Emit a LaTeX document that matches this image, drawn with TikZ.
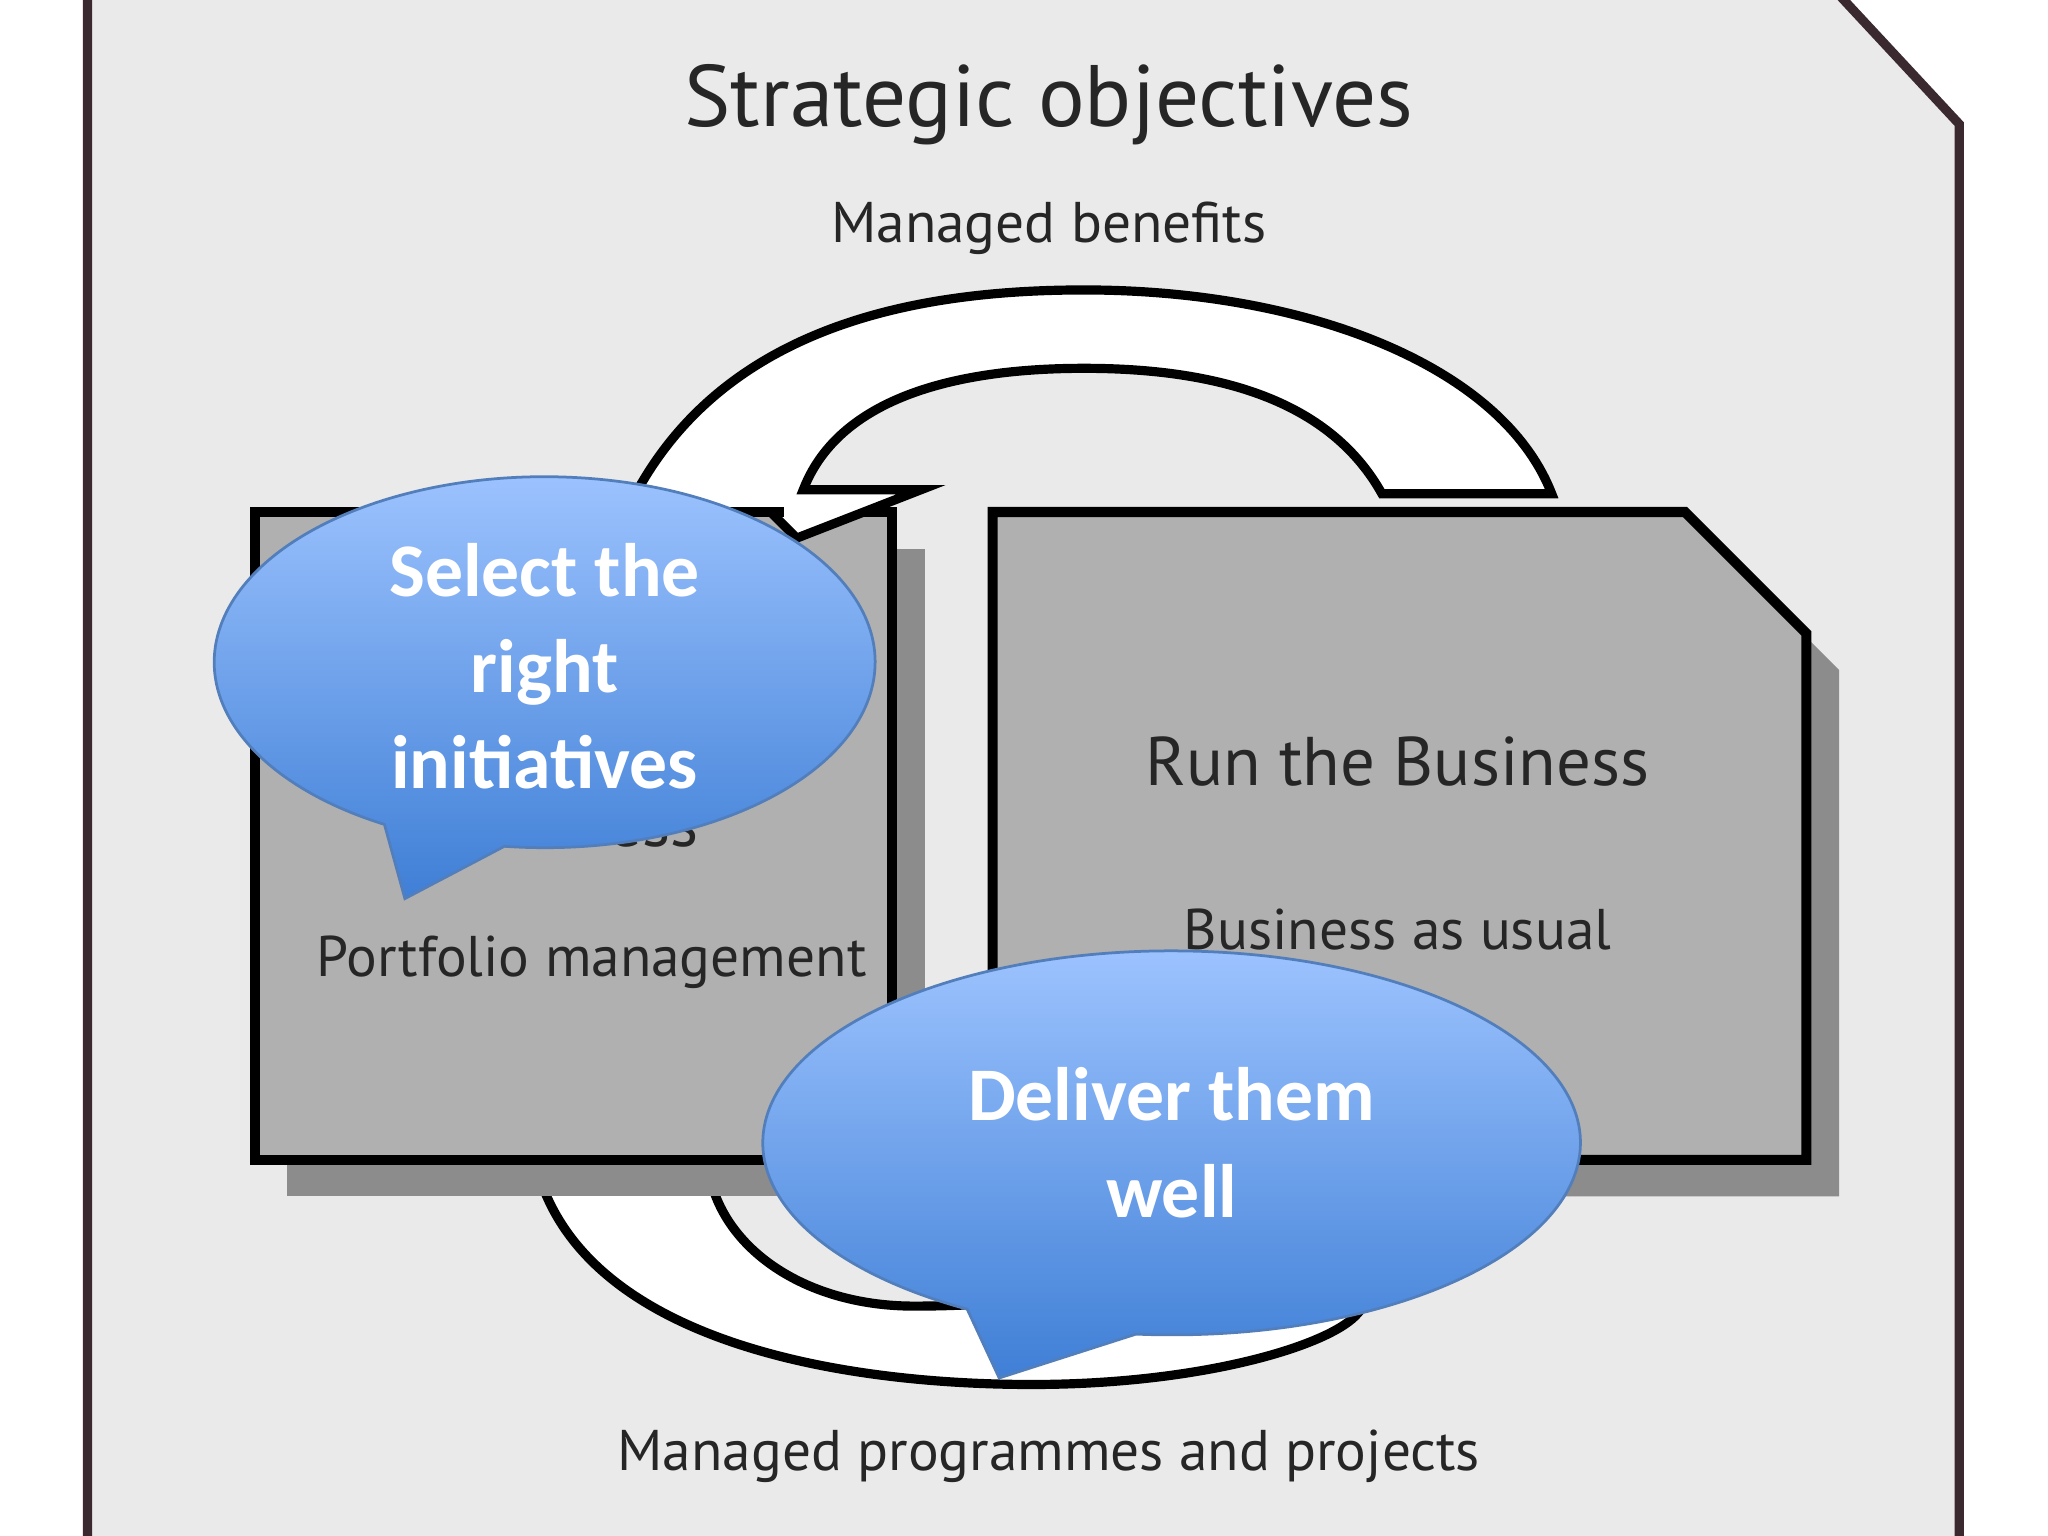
\documentclass[tikz,border=0pt]{standalone}
\usepackage{fontspec}
\setmainfont{PT Sans}
\newfontfamily\callfont{Carlito}
\definecolor{bgg}{HTML}{EAEAEA}
\definecolor{boxg}{HTML}{B0B0B0}
\definecolor{shadg}{HTML}{8C8C8C}
\definecolor{frame}{HTML}{3A2A30}
\definecolor{btop}{HTML}{9EC4FF}
\definecolor{bbot}{HTML}{3F7FD6}
\tikzset{
 lbl/.style={text=black!85, inner sep=0pt},
 bx/.style={fill=boxg, draw=black, line width=2.2pt},
 shd/.style={fill=shadg},
 band/.style={fill=white, draw=black, line width=2pt, line join=miter},
 callout/.style={top color=btop, bottom color=bbot, draw=bbot!70!gray, line width=0.6pt},
 ctext/.style={text=white, font=\callfont\bfseries\fontsize{16.5}{21}\selectfont, align=center}
}
\begin{document}
\begin{tikzpicture}
\useasboundingbox (0,0) rectangle (15.68,-11.76);
\fill[white] (0,0) rectangle (15.68,-11.76);
% frame
\draw[fill=bgg, draw=frame, line width=2pt] (0.67,0.05) -- (14.07,0.05) -- (15.00,-0.95) -- (15.00,-11.80) -- (0.67,-11.80) -- cycle;
\node[lbl, font=\fontsize{19}{23}\selectfont] (title) at (8.03,-0.80) {Strategic objectives};
\node[lbl, font=\fontsize{12.5}{15}\selectfont] (mb) at (8.03,-1.75) {Managed benefits};
\node[lbl, font=\fontsize{12.5}{15}\selectfont] (mpp) at (8.03,-11.15) {Managed programmes and projects};
% bottom band
\draw[band] (4.15,-9.07) .. controls (4.60,-10.30) and (6.50,-10.60) .. (7.90,-10.60)
  .. controls (9.20,-10.60) and (10.20,-10.30) .. (10.40,-10.05) -- (9.00,-9.70)
  .. controls (8.50,-9.95) and (7.50,-10.00) .. (7.00,-10.00)
  .. controls (6.20,-10.00) and (5.60,-9.60) .. (5.45,-9.07) -- cycle;
% left box
\fill[shd] (2.20,-4.20) rectangle (7.08,-9.16);
\draw[bx] (1.95,-3.92) rectangle (6.83,-8.88);
\node[lbl, font=\fontsize{14.5}{20}\selectfont, align=center] (ctb) at (4.40,-5.95) {Change the\\Business};
\node[lbl, font=\fontsize{12.5}{15}\selectfont] (pm) at (4.53,-7.37) {Portfolio management};
% top band
\draw[band] (4.88,-3.92) -- (4.90,-3.72) .. controls (5.60,-2.50) and (7.00,-2.22) .. (8.30,-2.22)
  .. controls (10.00,-2.22) and (11.50,-2.80) .. (11.88,-3.78) -- (10.58,-3.78)
  .. controls (10.20,-3.10) and (9.40,-2.82) .. (8.30,-2.82)
  .. controls (7.20,-2.82) and (6.40,-3.10) .. (6.15,-3.75) -- (7.05,-3.75) -- (6.10,-4.12) -- (5.90,-3.92) -- cycle;
\draw[black, line width=2.2pt] (4.80,-3.92) -- (6.00,-3.92);
% right box
\fill[shd] (7.85,-4.20) -- (13.15,-4.20) -- (14.08,-5.13) -- (14.08,-9.16) -- (7.85,-9.16) -- cycle;
\draw[bx] (7.60,-3.92) -- (12.90,-3.92) -- (13.83,-4.85) -- (13.83,-8.88) -- (7.60,-8.88) -- cycle;
\node[lbl, font=\fontsize{15}{18}\selectfont] (rtb) at (10.70,-5.83) {Run the Business};
\node[lbl, font=\fontsize{12.5}{15}\selectfont] (bau) at (10.70,-7.12) {Business as usual};
% callout 1
\shade[callout] (4.17,-5.07) ++(263:2.53 and 1.42) arc[start angle=263, end angle=601, x radius=2.53, y radius=1.42] -- (3.10,-6.88) -- cycle;
\node[ctext] (c1) at (4.17,-5.10) {Select the\\right\\initiatives};
% callout 2
\shade[callout] (8.97,-8.75) ++(265:3.13 and 1.47) arc[start angle=265, end angle=600, x radius=3.13, y radius=1.47] -- (7.65,-10.55) -- cycle;
\node[ctext] (c2) at (8.97,-8.75) {Deliver them\\well};
\end{tikzpicture}
\end{document}
